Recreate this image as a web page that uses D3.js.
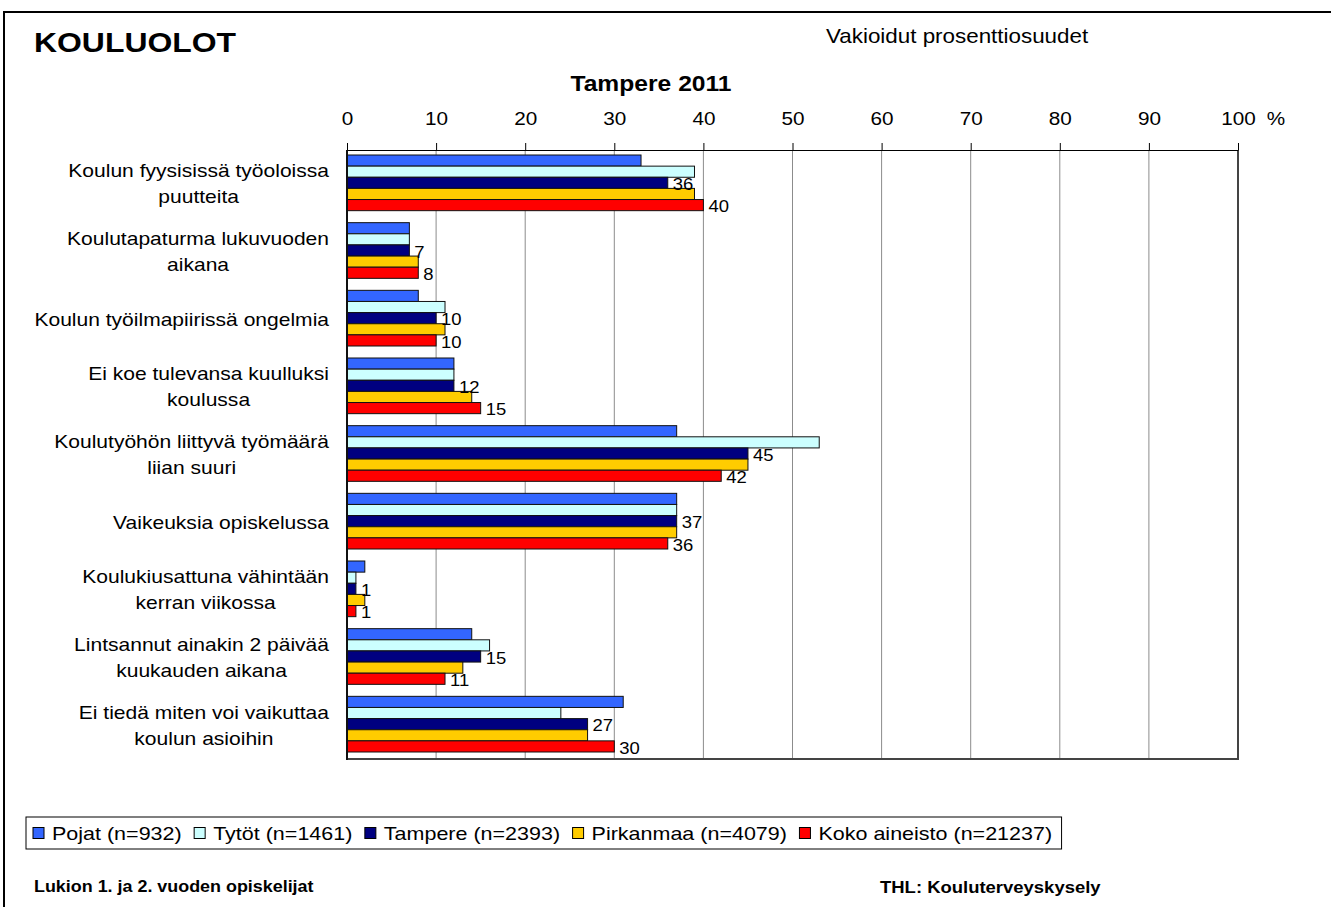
<!DOCTYPE html>
<html><head><meta charset="utf-8">
<script src="https://cdn.jsdelivr.net/npm/d3@7"></script>
<style>body{margin:0;background:#fff} svg{display:block} text{font-family:"Liberation Sans",Arial,sans-serif;fill:#000}</style>
</head><body><svg id="c" width="1331" height="907"></svg>
<script>
const categories = [
  "Koulun fyysisissä työoloissa puutteita",
  "Koulutapaturma lukuvuoden aikana",
  "Koulun työilmapiirissä ongelmia",
  "Ei koe tulevansa kuulluksi koulussa",
  "Koulutyöhön liittyvä työmäärä liian suuri",
  "Vaikeuksia opiskelussa",
  "Koulukiusattuna vähintään kerran viikossa",
  "Lintsannut ainakin 2 päivää kuukauden aikana",
  "Ei tiedä miten voi vaikuttaa koulun asioihin"
];
const categoryLines = [
  ["Koulun fyysisissä työoloissa", "puutteita"],
  ["Koulutapaturma lukuvuoden", "aikana"],
  ["Koulun työilmapiirissä ongelmia"],
  ["Ei koe tulevansa kuulluksi", "koulussa"],
  ["Koulutyöhön liittyvä työmäärä", "liian suuri"],
  ["Vaikeuksia opiskelussa"],
  ["Koulukiusattuna vähintään", "kerran viikossa"],
  ["Lintsannut ainakin 2 päivää", "kuukauden aikana"],
  ["Ei tiedä miten voi vaikuttaa", "koulun asioihin"]
];
const seriesNames = ["Pojat (n=932)", "Tytöt (n=1461)", "Tampere (n=2393)", "Pirkanmaa (n=4079)", "Koko aineisto (n=21237)"];
const pojat     = [33, 7, 8, 12, 37, 37, 2, 14, 31];
const tytot     = [39, 7, 11, 12, 53, 37, 1, 16, 24];
const tampere   = [36, 7, 10, 12, 45, 37, 1, 15, 27];
const pirkanmaa = [39, 8, 11, 14, 45, 37, 2, 13, 27];
const koko      = [40, 8, 10, 15, 42, 36, 1, 11, 30];
const labelledSeries = ["Tampere (n=2393)", "Koko aineisto (n=21237)"];
const xTicks = [0, 10, 20, 30, 40, 50, 60, 70, 80, 90, 100];
const seriesColors = ["#3366FF", "#CCFFFF", "#000080", "#FFCC00", "#FF0000"];
const chartTitle = "KOULUOLOT";
const chartSubtitle = "Tampere 2011";
const noteText = "Vakioidut prosenttiosuudet";
const footLeft = "Lukion 1. ja 2. vuoden opiskelijat";
const footRight = "THL: Kouluterveyskysely";

const seriesValues = [pojat, tytot, tampere, pirkanmaa, koko];
const SX = 1.12;
const svg = d3.select("#c");

function T(g, x, y, s, size, o = {}) {
  const t = g.append("text")
    .attr("transform", `translate(${x},${y}) scale(${SX},1)`)
    .attr("font-size", size)
    .attr("text-anchor", o.anchor || "start")
    .attr("dominant-baseline", "central")
    .text(s);
  if (o.bold) t.attr("font-weight", "bold");
  return t;
}

// outer frame
svg.append("path").attr("d", "M4,907 L4,12 L1331,12").attr("fill", "none").attr("stroke", "#000").attr("stroke-width", 2);

// titles
T(svg, 34, 42, chartTitle, 28.5, {bold: true});
T(svg, 826, 36, noteText, 20);
T(svg, 651, 83, chartSubtitle, 22, {bold: true, anchor: "middle"});

// scales
const x = d3.scaleLinear().domain([0, 100]).range([347, 1238]);
const y = d3.scaleBand().domain(categories).range([150, 759]);
const yInner = d3.scaleBand().domain(seriesNames).range([5, y.bandwidth() - 7]);

// gridlines
svg.append("g").selectAll("line").data(xTicks.filter(d => d > 0 && d < 100)).join("line")
  .attr("x1", d => x(d)).attr("x2", d => x(d)).attr("y1", 150).attr("y2", 759)
  .attr("stroke", "#8c8c8c").attr("stroke-width", 1);

// bars
const groups = svg.append("g").selectAll("g").data(categories).join("g")
  .attr("transform", d => `translate(0,${y(d)})`);
groups.each(function (cat, ci) {
  const g = d3.select(this);
  seriesNames.forEach((s, si) => {
    const v = seriesValues[si][ci];
    g.append("rect")
      .attr("x", x(0)).attr("y", yInner(s))
      .attr("width", x(v) - x(0)).attr("height", yInner.bandwidth())
      .attr("fill", seriesColors[si]).attr("stroke", "#111").attr("stroke-width", 1);
  });
  seriesNames.forEach((s, si) => {
    if (!labelledSeries.includes(s)) return;
    const v = seriesValues[si][ci];
    T(g, x(v) + 5, yInner(s) + yInner.bandwidth() / 2 + 1.5, String(v), 16.5);
  });
});

// plot frame
svg.append("line").attr("x1", x(100)).attr("x2", x(100)).attr("y1", 150).attr("y2", 760).attr("stroke", "#444").attr("stroke-width", 2);
svg.append("line").attr("x1", x(0)).attr("x2", x(100) + 1).attr("y1", 759).attr("y2", 759).attr("stroke", "#444").attr("stroke-width", 2);
svg.append("line").attr("x1", x(0)).attr("x2", x(0)).attr("y1", 150).attr("y2", 760).attr("stroke", "#111").attr("stroke-width", 2);

// top axis
const ax = svg.append("g").attr("transform", "translate(0,150)")
  .call(d3.axisTop(x).tickValues(xTicks).tickSize(7).tickPadding(16).tickSizeOuter(0));
ax.select(".domain").attr("stroke", "#000");
ax.selectAll(".tick line").attr("stroke", "#000");
ax.selectAll(".tick text").attr("font-size", 18.5).attr("font-family", null)
  .attr("transform", `scale(${SX},1)`).attr("dy", null).attr("dominant-baseline", "central").attr("y", -32);
T(svg, 1276, 118, "%", 18.5, {anchor: "middle"});

// category labels
groups.each(function (cat, ci) {
  const g = d3.select(this);
  const lines = categoryLines[ci];
  const cy = y.bandwidth() / 2;
  const ts = lines.map((l, i) => T(g, 0, cy + (i - (lines.length - 1) / 2) * 26, l, 18.8, {anchor: "middle"}));
  const maxW = d3.max(ts, t => t.node().getComputedTextLength() * SX);
  const cx = 329 - maxW / 2;
  ts.forEach((t, i) => t.attr("transform", `translate(${cx},${cy + (i - (lines.length - 1) / 2) * 26}) scale(${SX},1)`));
});

// legend
const lg = svg.append("g");
const lgBox = lg.append("rect").attr("x", 26).attr("y", 817).attr("height", 32).attr("fill", "#fff").attr("stroke", "#000").attr("stroke-width", 1);
let lx = 33;
seriesNames.forEach((s, si) => {
  lg.append("rect").attr("x", lx).attr("y", 827.5).attr("width", 11).attr("height", 11)
    .attr("fill", seriesColors[si]).attr("stroke", "#000").attr("stroke-width", 1);
  const t = T(lg, lx + 19, 833, s, 19.2);
  lx = lx + 19 + t.node().getComputedTextLength() * SX + 12.5;
});
lgBox.attr("width", lx - 26 - 3);

// footer
T(svg, 34, 887, footLeft, 16, {bold: true});
T(svg, 880, 887, footRight, 16.5, {bold: true});
</script></body></html>
